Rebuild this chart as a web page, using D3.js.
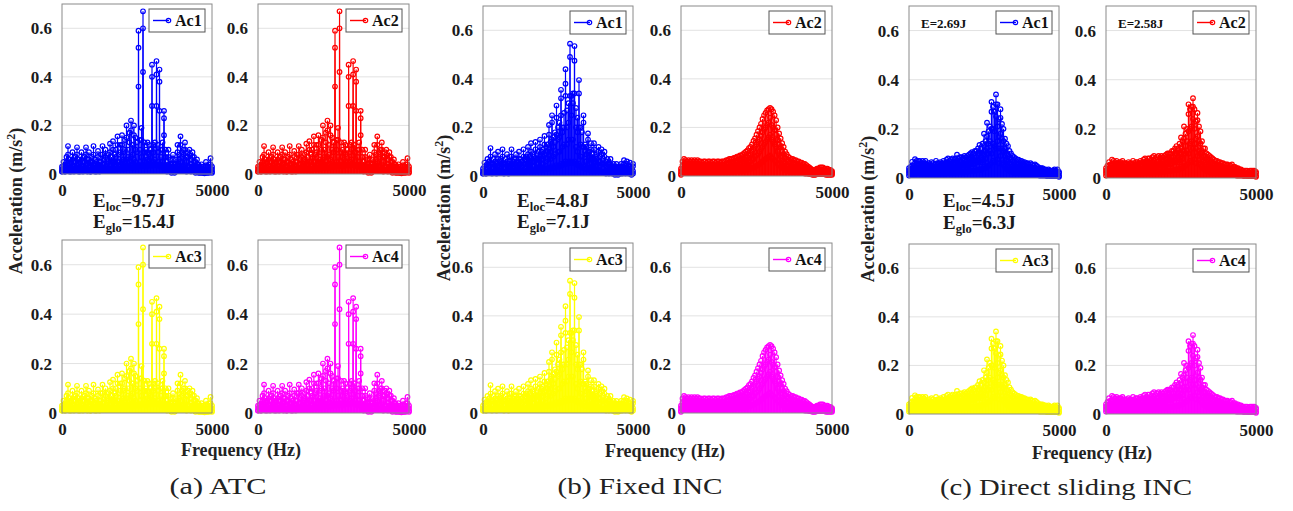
<!DOCTYPE html>
<html><head><meta charset="utf-8">
<script src="https://cdn.jsdelivr.net/npm/d3@7"></script>
<style>
html,body{margin:0;padding:0;background:#fff;}
svg{display:block;}
</style></head>
<body>
<svg id="chart" width="1293" height="511"></svg>
<script>
// ---------------- DATA ----------------
const freqGrid = [0,50,100,150,200,250,300,350,400,450,500,550,600,650,700,750,800,850,900,950,
1000,1050,1100,1150,1200,1250,1300,1350,1400,1450,1500,1550,1600,1650,1700,1750,1800,1850,1900,1950,
2000,2050,2100,2150,2200,2250,2300,2350,2400,2450,2500,2550,2600,2650,2700,2750,2800,2850,2900,2950,
3000,3050,3100,3150,3200,3250,3300,3350,3400,3450,3500,3550,3600,3650,3700,3750,3800,3850,3900,3950,
4000,4050,4100,4150,4200,4250,4300,4350,4400,4450,4500,4550,4600,4650,4700,4750,4800,4850,4900,4950,5000];

const xTickValues = [0, 5000];
const yTickValues = [0, 0.2, 0.4, 0.6];
const seriesNames = ["Ac1", "Ac2", "Ac3", "Ac4"];
const seriesColors = ["#0000ff", "#ff0000", "#ffff00", "#ff00ff"];
const captions = ["(a) ATC", "(b) Fixed INC", "(c) Direct sliding INC"];
const eLoc = ["9.7J", "4.8J", "4.5J"];
const eGlo = ["15.4J", "7.1J", "6.3J"];
const eDirect = ["E=2.69J", "E=2.58J"];

// (a) ATC  - same spectrum in Ac1..Ac4
const atcTop = [0.03,0.05,0.03,0.07,0.115,0.06,0.05,0.09,0.05,0.07,
0.11,0.06,0.05,0.09,0.05,0.07,0.11,0.06,0.09,0.05,
0.07,0.115,0.06,0.05,0.095,0.05,0.08,0.115,0.06,0.1,
0.06,0.08,0.125,0.07,0.135,0.08,0.1,0.155,0.08,0.12,
0.16,0.09,0.14,0.2,0.1,0.17,0.22,0.12,0.2,0.15,
0.13,0.59,0.14,0.19,0.67,0.13,0.1,0.13,0.12,0.1,
0.45,0.12,0.13,0.465,0.12,0.43,0.1,0.13,0.26,0.1,
0.05,0.1,0.06,0.04,0.08,0.04,0.06,0.12,0.08,0.155,
0.09,0.1,0.13,0.07,0.09,0.1,0.06,0.09,0.07,0.05,
0.06,0.04,0.03,0.04,0.03,0.02,0.05,0.03,0.04,0.065,0.03];
const atcMid = [0.02,0.03,0.02,0.05,0.08,0.04,0.03,0.06,0.03,0.05,
0.08,0.04,0.03,0.06,0.03,0.05,0.08,0.04,0.06,0.03,
0.05,0.08,0.04,0.03,0.07,0.03,0.05,0.08,0.04,0.07,
0.04,0.05,0.09,0.05,0.1,0.05,0.07,0.12,0.05,0.09,
0.12,0.06,0.1,0.15,0.07,0.13,0.18,0.08,0.16,0.1,
0.09,0.52,0.1,0.14,0.6,0.09,0.07,0.09,0.08,0.07,
0.4,0.09,0.1,0.41,0.09,0.38,0.07,0.1,0.23,0.07,
0.03,0.07,0.04,0.03,0.06,0.03,0.04,0.09,0.06,0.12,
0.07,0.08,0.1,0.05,0.07,0.08,0.04,0.07,0.05,0.03,
0.04,0.03,0.02,0.03,0.02,0.015,0.03,0.02,0.03,0.04,0.02];
const atcLow = [0.01,0.02,0.01,0.03,0.04,0.02,0.01,0.03,0.02,0.02,
0.04,0.02,0.01,0.03,0.02,0.02,0.04,0.02,0.03,0.01,
0.02,0.04,0.02,0.01,0.03,0.02,0.02,0.04,0.02,0.03,
0.02,0.02,0.04,0.02,0.05,0.03,0.03,0.05,0.03,0.04,
0.05,0.03,0.05,0.06,0.04,0.05,0.07,0.04,0.06,0.05,
0.04,0.36,0.05,0.07,0.42,0.05,0.04,0.06,0.05,0.04,
0.28,0.05,0.06,0.28,0.05,0.26,0.04,0.05,0.16,0.03,
0.02,0.04,0.02,0.01,0.03,0.01,0.02,0.04,0.03,0.05,
0.03,0.03,0.04,0.02,0.03,0.03,0.02,0.03,0.02,0.01,
0.02,0.01,0.01,0.01,0.01,0.005,0.01,0.01,0.01,0.02,0.01];
const atcFloor = [0.01,0.015,0.01,0.015,0.02,0.01,0.015,0.02,0.01,0.015,
0.02,0.01,0.015,0.02,0.01,0.015,0.02,0.01,0.015,0.01,
0.015,0.02,0.01,0.015,0.02,0.01,0.015,0.02,0.015,0.02,
0.015,0.015,0.02,0.015,0.025,0.015,0.02,0.025,0.02,0.02,
0.025,0.02,0.025,0.03,0.025,0.03,0.035,0.025,0.03,0.03,
0.03,0.035,0.03,0.035,0.04,0.035,0.03,0.035,0.04,0.035,
0.04,0.035,0.04,0.04,0.035,0.04,0.03,0.035,0.03,0.02,
0.01,0.02,0.01,0.005,0.015,0.005,0.01,0.02,0.015,0.025,
0.015,0.015,0.02,0.01,0.015,0.015,0.01,0.015,0.01,0.005,
0.01,0.005,0.005,0.005,0.005,0.003,0.005,0.005,0.005,0.01,0.005];

// (b) Fixed INC - Ac1/Ac3
const fixATop = [0.03,0.055,0.03,0.07,0.06,0.115,0.05,0.07,0.09,0.05,
0.1,0.06,0.07,0.11,0.05,0.07,0.09,0.05,0.08,0.11,
0.06,0.07,0.09,0.06,0.1,0.07,0.06,0.11,0.07,0.08,
0.12,0.08,0.135,0.09,0.08,0.14,0.09,0.1,0.15,0.1,
0.11,0.165,0.12,0.13,0.21,0.14,0.25,0.16,0.18,0.29,
0.2,0.22,0.355,0.2,0.26,0.44,0.27,0.3,0.545,0.33,
0.34,0.535,0.28,0.24,0.395,0.2,0.18,0.25,0.13,0.12,
0.175,0.1,0.135,0.09,0.135,0.08,0.09,0.12,0.08,0.11,
0.07,0.1,0.06,0.07,0.05,0.07,0.04,0.05,0.03,0.05,
0.03,0.04,0.05,0.04,0.065,0.04,0.06,0.04,0.055,0.03,0.05];
const fixAMid = [0.02,0.04,0.02,0.05,0.04,0.08,0.03,0.05,0.06,0.03,
0.07,0.04,0.05,0.08,0.03,0.05,0.06,0.03,0.06,0.08,
0.04,0.05,0.07,0.04,0.07,0.05,0.04,0.08,0.05,0.06,
0.09,0.06,0.1,0.06,0.06,0.11,0.07,0.07,0.12,0.07,
0.08,0.13,0.09,0.1,0.17,0.1,0.22,0.12,0.14,0.24,
0.15,0.16,0.32,0.18,0.2,0.38,0.2,0.22,0.49,0.25,
0.3,0.475,0.2,0.18,0.34,0.13,0.12,0.22,0.1,0.09,
0.15,0.08,0.11,0.07,0.11,0.06,0.07,0.1,0.06,0.09,
0.05,0.08,0.04,0.05,0.04,0.05,0.03,0.04,0.02,0.04,
0.02,0.03,0.04,0.03,0.05,0.03,0.05,0.03,0.04,0.02,0.04];
const fixALow = [0.01,0.02,0.01,0.03,0.02,0.05,0.02,0.03,0.04,0.02,
0.04,0.02,0.03,0.05,0.02,0.03,0.04,0.02,0.04,0.05,
0.02,0.03,0.04,0.02,0.04,0.03,0.02,0.05,0.03,0.04,
0.05,0.04,0.06,0.04,0.04,0.07,0.05,0.05,0.08,0.05,
0.05,0.09,0.06,0.07,0.11,0.07,0.15,0.08,0.09,0.17,
0.1,0.1,0.25,0.12,0.13,0.33,0.13,0.15,0.33,0.15,
0.15,0.34,0.12,0.1,0.2,0.08,0.08,0.12,0.06,0.06,
0.1,0.05,0.07,0.04,0.07,0.04,0.05,0.06,0.04,0.05,
0.03,0.05,0.02,0.03,0.02,0.03,0.02,0.02,0.01,0.02,
0.01,0.02,0.02,0.02,0.03,0.02,0.03,0.02,0.02,0.01,0.02];
const fixAFloor = [0.01,0.015,0.01,0.015,0.015,0.02,0.01,0.015,0.02,0.01,
0.02,0.015,0.015,0.02,0.01,0.015,0.02,0.01,0.015,0.02,
0.015,0.015,0.02,0.015,0.02,0.015,0.015,0.02,0.015,0.02,
0.02,0.02,0.025,0.02,0.02,0.025,0.02,0.025,0.03,0.025,
0.025,0.03,0.03,0.03,0.035,0.03,0.04,0.035,0.035,0.045,
0.04,0.04,0.05,0.045,0.05,0.06,0.05,0.055,0.06,0.055,
0.055,0.06,0.05,0.045,0.05,0.04,0.035,0.04,0.03,0.03,
0.035,0.025,0.03,0.02,0.03,0.02,0.02,0.025,0.02,0.02,
0.015,0.02,0.01,0.015,0.01,0.015,0.01,0.01,0.005,0.01,
0.005,0.01,0.01,0.01,0.015,0.01,0.015,0.01,0.01,0.005,0.01];

// (b) Fixed INC - Ac2/Ac4
const fixBTop = [0.03,0.06,0.07,0.065,0.06,0.065,0.06,0.065,0.06,0.065,
0.06,0.065,0.06,0.06,0.055,0.06,0.06,0.055,0.06,0.06,
0.055,0.06,0.06,0.055,0.06,0.06,0.055,0.06,0.06,0.06,
0.065,0.065,0.07,0.07,0.07,0.075,0.075,0.08,0.08,0.085,
0.085,0.09,0.095,0.1,0.105,0.115,0.12,0.13,0.145,0.155,
0.17,0.185,0.2,0.215,0.235,0.25,0.26,0.27,0.275,0.28,
0.275,0.265,0.25,0.23,0.2,0.175,0.155,0.135,0.12,0.1,
0.09,0.08,0.075,0.07,0.07,0.065,0.065,0.06,0.06,0.055,
0.055,0.05,0.05,0.045,0.04,0.035,0.03,0.025,0.025,0.025,
0.03,0.03,0.035,0.035,0.035,0.03,0.03,0.03,0.025,0.025,0.02];
const fixBMid = [0.02,0.045,0.05,0.05,0.045,0.05,0.045,0.05,0.045,0.05,
0.045,0.05,0.045,0.045,0.04,0.045,0.045,0.04,0.045,0.045,
0.04,0.045,0.045,0.04,0.045,0.045,0.04,0.045,0.045,0.045,
0.05,0.05,0.05,0.055,0.055,0.055,0.06,0.06,0.06,0.065,
0.065,0.07,0.07,0.075,0.08,0.085,0.09,0.1,0.11,0.12,
0.13,0.14,0.15,0.165,0.18,0.19,0.2,0.21,0.22,0.24,
0.21,0.2,0.19,0.17,0.15,0.13,0.12,0.1,0.09,0.075,
0.07,0.06,0.055,0.055,0.05,0.05,0.05,0.045,0.045,0.04,
0.04,0.04,0.035,0.035,0.03,0.025,0.02,0.02,0.02,0.02,
0.02,0.025,0.025,0.025,0.025,0.02,0.02,0.02,0.02,0.02,0.015];
const fixBLow = [0.01,0.03,0.03,0.03,0.03,0.03,0.03,0.03,0.03,0.03,
0.03,0.03,0.03,0.03,0.025,0.03,0.03,0.025,0.03,0.03,
0.025,0.03,0.03,0.025,0.03,0.03,0.025,0.03,0.03,0.03,
0.03,0.03,0.035,0.035,0.035,0.035,0.04,0.04,0.04,0.04,
0.04,0.045,0.045,0.05,0.05,0.055,0.06,0.065,0.07,0.08,
0.085,0.09,0.1,0.11,0.12,0.13,0.14,0.15,0.16,0.17,
0.15,0.14,0.13,0.12,0.1,0.09,0.08,0.065,0.06,0.05,
0.045,0.04,0.035,0.035,0.035,0.03,0.03,0.03,0.03,0.025,
0.025,0.025,0.02,0.02,0.02,0.015,0.015,0.01,0.01,0.01,
0.015,0.015,0.015,0.015,0.015,0.015,0.01,0.01,0.01,0.01,0.01];
const fixBFloor = [0.005,0.015,0.015,0.015,0.015,0.015,0.015,0.015,0.015,0.015,
0.015,0.015,0.015,0.015,0.012,0.015,0.015,0.012,0.015,0.015,
0.012,0.015,0.015,0.012,0.015,0.015,0.012,0.015,0.015,0.015,
0.015,0.015,0.018,0.018,0.018,0.018,0.02,0.02,0.02,0.02,
0.02,0.022,0.022,0.025,0.025,0.028,0.03,0.032,0.035,0.04,
0.042,0.045,0.05,0.055,0.06,0.065,0.07,0.075,0.08,0.085,
0.075,0.07,0.065,0.06,0.05,0.045,0.04,0.032,0.03,0.025,
0.022,0.02,0.018,0.018,0.018,0.015,0.015,0.015,0.015,0.012,
0.012,0.012,0.01,0.01,0.01,0.008,0.008,0.005,0.005,0.005,
0.008,0.008,0.008,0.008,0.008,0.008,0.005,0.005,0.005,0.005,0.005];

// (c) Direct sliding INC - Ac1/Ac3
const dirATop = [0.04,0.045,0.066,0.05,0.077,0.07,0.07,0.07,0.06,0.07,
0.065,0.07,0.055,0.06,0.05,0.065,0.06,0.055,0.07,0.06,
0.06,0.065,0.06,0.07,0.06,0.075,0.08,0.07,0.075,0.08,
0.075,0.08,0.095,0.08,0.085,0.085,0.08,0.09,0.085,0.09,
0.095,0.1,0.105,0.1,0.11,0.11,0.12,0.135,0.12,0.14,
0.18,0.15,0.225,0.19,0.21,0.31,0.29,0.27,0.34,0.3,
0.24,0.28,0.22,0.2,0.16,0.14,0.13,0.11,0.1,0.09,
0.085,0.08,0.075,0.075,0.07,0.07,0.065,0.065,0.06,0.06,
0.055,0.06,0.055,0.05,0.055,0.05,0.045,0.04,0.04,0.04,
0.035,0.035,0.03,0.035,0.03,0.03,0.03,0.035,0.03,0.035,0.025];
const dirAMid = [0.03,0.035,0.05,0.04,0.06,0.055,0.055,0.055,0.045,0.055,
0.05,0.055,0.045,0.045,0.04,0.05,0.045,0.045,0.055,0.045,
0.045,0.05,0.045,0.055,0.045,0.06,0.06,0.055,0.06,0.06,
0.06,0.06,0.07,0.06,0.065,0.065,0.06,0.07,0.065,0.07,
0.075,0.075,0.08,0.075,0.085,0.085,0.09,0.1,0.09,0.1,
0.13,0.11,0.17,0.14,0.15,0.27,0.2,0.19,0.3,0.21,
0.17,0.245,0.16,0.15,0.12,0.1,0.09,0.08,0.075,0.07,
0.065,0.06,0.055,0.055,0.05,0.05,0.05,0.05,0.045,0.045,
0.04,0.045,0.04,0.04,0.04,0.035,0.035,0.03,0.03,0.03,
0.025,0.025,0.02,0.025,0.02,0.02,0.02,0.025,0.02,0.025,0.02];
const dirALow = [0.02,0.025,0.035,0.03,0.04,0.04,0.04,0.04,0.035,0.04,
0.035,0.04,0.035,0.035,0.03,0.035,0.035,0.03,0.04,0.035,
0.035,0.035,0.035,0.04,0.035,0.04,0.045,0.04,0.045,0.045,
0.045,0.045,0.05,0.045,0.05,0.05,0.045,0.05,0.05,0.05,
0.055,0.055,0.06,0.055,0.06,0.065,0.065,0.07,0.065,0.075,
0.09,0.08,0.12,0.1,0.11,0.2,0.14,0.13,0.25,0.15,
0.12,0.18,0.12,0.11,0.09,0.075,0.07,0.06,0.055,0.05,
0.045,0.045,0.04,0.04,0.04,0.035,0.035,0.035,0.035,0.03,
0.03,0.03,0.03,0.03,0.03,0.025,0.025,0.02,0.02,0.02,
0.02,0.02,0.015,0.02,0.015,0.015,0.015,0.015,0.015,0.015,0.01];

// (c) Direct sliding INC - Ac2/Ac4
const dirBTop = [0.04,0.05,0.065,0.055,0.075,0.07,0.065,0.07,0.06,0.065,
0.065,0.07,0.06,0.06,0.055,0.065,0.06,0.06,0.07,0.06,
0.065,0.065,0.06,0.07,0.065,0.075,0.08,0.07,0.08,0.08,
0.075,0.085,0.09,0.08,0.085,0.09,0.08,0.09,0.085,0.09,
0.095,0.1,0.1,0.1,0.11,0.11,0.12,0.13,0.12,0.14,
0.165,0.15,0.21,0.18,0.2,0.3,0.28,0.29,0.325,0.28,
0.23,0.265,0.21,0.19,0.15,0.12,0.12,0.1,0.095,0.09,
0.085,0.08,0.075,0.07,0.07,0.065,0.065,0.06,0.06,0.055,
0.055,0.055,0.05,0.05,0.055,0.045,0.045,0.04,0.04,0.035,
0.035,0.03,0.03,0.03,0.03,0.025,0.03,0.03,0.03,0.03,0.025];
const dirBMid = [0.03,0.035,0.05,0.04,0.055,0.055,0.05,0.055,0.045,0.05,
0.05,0.055,0.045,0.045,0.04,0.05,0.045,0.045,0.055,0.045,
0.05,0.05,0.045,0.055,0.05,0.06,0.06,0.055,0.06,0.06,
0.06,0.065,0.07,0.06,0.065,0.07,0.06,0.07,0.065,0.07,
0.075,0.075,0.08,0.075,0.085,0.085,0.09,0.1,0.09,0.1,
0.12,0.11,0.16,0.13,0.15,0.26,0.2,0.21,0.29,0.2,
0.16,0.235,0.15,0.14,0.11,0.09,0.09,0.075,0.07,0.07,
0.065,0.06,0.055,0.055,0.05,0.05,0.05,0.045,0.045,0.04,
0.04,0.04,0.04,0.035,0.04,0.035,0.035,0.03,0.03,0.025,
0.025,0.02,0.02,0.02,0.02,0.02,0.02,0.02,0.02,0.02,0.02];
const dirBLow = [0.02,0.025,0.035,0.03,0.04,0.04,0.035,0.04,0.035,0.035,
0.035,0.04,0.035,0.035,0.03,0.035,0.035,0.035,0.04,0.035,
0.035,0.035,0.035,0.04,0.035,0.04,0.045,0.04,0.045,0.045,
0.045,0.045,0.05,0.045,0.05,0.05,0.045,0.05,0.05,0.05,
0.055,0.055,0.06,0.055,0.06,0.065,0.065,0.07,0.065,0.075,
0.085,0.08,0.11,0.1,0.11,0.19,0.14,0.15,0.24,0.14,
0.12,0.17,0.11,0.1,0.085,0.07,0.065,0.055,0.05,0.05,
0.045,0.04,0.04,0.04,0.035,0.035,0.035,0.035,0.03,0.03,
0.03,0.03,0.03,0.025,0.03,0.025,0.025,0.02,0.02,0.02,
0.015,0.015,0.015,0.015,0.015,0.015,0.015,0.015,0.015,0.015,0.01];
// noise floor shared by the (c) spectra
const dirFloor = [0.01,0.012,0.018,0.015,0.02,0.02,0.02,0.02,0.018,0.02,
0.018,0.02,0.018,0.018,0.015,0.018,0.018,0.015,0.02,0.018,
0.018,0.018,0.018,0.02,0.018,0.02,0.022,0.02,0.022,0.022,
0.022,0.022,0.025,0.022,0.025,0.025,0.022,0.025,0.025,0.025,
0.028,0.028,0.03,0.028,0.03,0.032,0.032,0.035,0.032,0.038,
0.045,0.04,0.06,0.05,0.055,0.1,0.07,0.065,0.12,0.075,
0.06,0.09,0.06,0.055,0.045,0.038,0.035,0.03,0.028,0.025,
0.022,0.022,0.02,0.02,0.02,0.018,0.018,0.018,0.018,0.015,
0.015,0.015,0.015,0.015,0.015,0.012,0.012,0.01,0.01,0.01,
0.01,0.01,0.008,0.01,0.008,0.008,0.008,0.008,0.008,0.008,0.005];

// ---------------- LAYOUT ----------------
const atc = [atcTop, atcMid, atcLow, atcFloor];
const fixA = [fixATop, fixAMid, fixALow, fixAFloor];
const fixB = [fixBTop, fixBMid, fixBLow, fixBFloor];
const dirA = [dirATop, dirAMid, dirALow, dirFloor];
const dirB = [dirBTop, dirBMid, dirBLow, dirFloor];

const groups = [
  {cols: [[62,212],[258,409]], rows: [[4,174],[240,413]], data: [atc, atc, atc, atc],
   eX: 93, eY: [207,228], yLab: [22,201], xLab: [241,456], cap: [218,494,97]},
  {cols: [[483,633],[681,832]], rows: [[6,176],[243,413]], data: [fixA, fixB, fixA, fixB],
   eX: 517, eY: [207,228], yLab: [450,208], xLab: [665,457], cap: [640,494,165]},
  {cols: [[909,1059],[1106,1256]], rows: [[6,178],[244,414]], data: [dirA, dirB, dirA, dirB],
   eX: 943, eY: [207,229], yLab: [874,209], xLab: [1092,459], cap: [1066,495,252]}
];

const SERIF = "'Liberation Serif','Times New Roman',serif";
const svg = d3.select("#chart");

function drawPanel(x0, x1, yT, yB, layers, color, name, note) {
  const g = svg.append("g");
  const xs = d3.scaleLinear().domain([0, 5000]).range([x0, x1]);
  const ys = d3.scaleLinear().domain([0, 0.7]).range([yB, yT]);

  // gridlines
  g.append("g").selectAll("line").data(yTickValues.filter(v => v > 0)).join("line")
    .attr("x1", x0).attr("x2", x1).attr("y1", d => ys(d)).attr("y2", d => ys(d))
    .attr("stroke", "#e2e2e2").attr("stroke-width", 1);

  // stems
  const pts = [];
  layers.forEach(arr => arr.forEach((v, i) => pts.push({f: freqGrid[i], v})));
  const sg = g.append("g");
  sg.selectAll("line").data(pts).join("line")
    .attr("x1", d => xs(d.f)).attr("x2", d => xs(d.f))
    .attr("y1", ys(0)).attr("y2", d => ys(d.v))
    .attr("stroke", color).attr("stroke-width", 1.2);
  sg.selectAll("circle").data(pts).join("circle")
    .attr("cx", d => xs(d.f)).attr("cy", d => ys(d.v)).attr("r", 2.3)
    .attr("fill", "none").attr("stroke", color).attr("stroke-width", 1.2);

  // frame
  g.append("rect").attr("x", x0).attr("y", yT).attr("width", x1 - x0).attr("height", yB - yT)
    .attr("fill", "none").attr("stroke", "#8a8a8a").attr("stroke-width", 1);

  // axes
  const ya = g.append("g").attr("transform", `translate(${x0},0)`)
    .call(d3.axisLeft(ys).tickValues(yTickValues).tickSize(0).tickPadding(11)
      .tickFormat(d => d === 0 ? "0" : d3.format(".1f")(d)));
  ya.select(".domain").remove();
  ya.selectAll("text").attr("font-family", SERIF).attr("font-weight", "bold")
    .attr("font-size", 17).attr("fill", "#1a1a1a")
    .attr("x", d => d === 0 ? -5 : -10);
  const xa = g.append("g").attr("transform", `translate(0,${yB})`)
    .call(d3.axisBottom(xs).tickValues(xTickValues).tickSize(0).tickFormat(d3.format("d")));
  xa.select(".domain").remove();
  xa.selectAll("text").attr("font-family", SERIF).attr("font-weight", "bold")
    .attr("font-size", 17).attr("fill", "#1a1a1a").attr("dy", null).attr("y", 22);

  // legend
  const bw = 56, bh = 23;
  const L = x1 - 7 - bw, T = yT + 5;
  const lg = g.append("g");
  lg.append("rect").attr("x", L).attr("y", T).attr("width", bw).attr("height", bh)
    .attr("fill", "#fff").attr("stroke", "#555").attr("stroke-width", 1);
  lg.append("line").attr("x1", L + 4).attr("x2", L + 20).attr("y1", T + bh / 2).attr("y2", T + bh / 2)
    .attr("stroke", color).attr("stroke-width", 1.4);
  lg.append("circle").attr("cx", L + 19.5).attr("cy", T + bh / 2).attr("r", 2.2)
    .attr("fill", "none").attr("stroke", color).attr("stroke-width", 1.2);
  lg.append("text").attr("x", L + 26).attr("y", T + 17).text(name)
    .attr("font-family", SERIF).attr("font-weight", "bold").attr("font-size", 16).attr("fill", "#111");

  if (note) {
    g.append("text").attr("x", x0 + 12).attr("y", yT + 22).text(note)
      .attr("font-family", SERIF).attr("font-weight", "bold").attr("font-size", 13).attr("fill", "#111");
  }
}

groups.forEach((G, gi) => {
  for (let k = 0; k < 4; k++) {
    const c = k % 2, r = Math.floor(k / 2);
    const note = (gi === 2 && r === 0) ? eDirect[c] : null;
    drawPanel(G.cols[c][0], G.cols[c][1], G.rows[r][0], G.rows[r][1], G.data[k], seriesColors[k], seriesNames[k], note);
  }
  // energy labels
  const e1 = svg.append("text").attr("x", G.eX).attr("y", G.eY[0])
    .attr("font-family", SERIF).attr("font-weight", "bold").attr("font-size", 19).attr("fill", "#1a1a1a");
  e1.append("tspan").text("E");
  e1.append("tspan").text("loc").attr("font-size", 12.5).attr("dy", 4);
  e1.append("tspan").text("=" + eLoc[gi]).attr("dy", -4);
  const e2 = svg.append("text").attr("x", G.eX).attr("y", G.eY[1])
    .attr("font-family", SERIF).attr("font-weight", "bold").attr("font-size", 19).attr("fill", "#1a1a1a");
  e2.append("tspan").text("E");
  e2.append("tspan").text("glo").attr("font-size", 12.5).attr("dy", 4);
  e2.append("tspan").text("=" + eGlo[gi]).attr("dy", -4);

  // y label
  const yl = svg.append("text").attr("transform", `translate(${G.yLab[0]},${G.yLab[1]}) rotate(-90)`)
    .attr("text-anchor", "middle").attr("font-family", SERIF).attr("font-weight", "bold")
    .attr("font-size", 18).attr("fill", "#222");
  yl.append("tspan").text("Acceleration (m/s");
  yl.append("tspan").text("2").attr("font-size", 12).attr("dy", -7);
  yl.append("tspan").text(")").attr("dy", 7);

  // x label
  svg.append("text").attr("x", G.xLab[0]).attr("y", G.xLab[1]).attr("text-anchor", "middle")
    .attr("font-family", SERIF).attr("font-weight", "bold").attr("font-size", 18).attr("fill", "#222")
    .text("Frequency (Hz)");

  // caption
  svg.append("text").attr("x", G.cap[0]).attr("y", G.cap[1]).attr("text-anchor", "middle")
    .attr("font-family", SERIF).attr("font-size", 23).attr("fill", "#222")
    .attr("textLength", G.cap[2]).attr("lengthAdjust", "spacingAndGlyphs")
    .text(captions[gi]);
});
</script>
</body></html>
